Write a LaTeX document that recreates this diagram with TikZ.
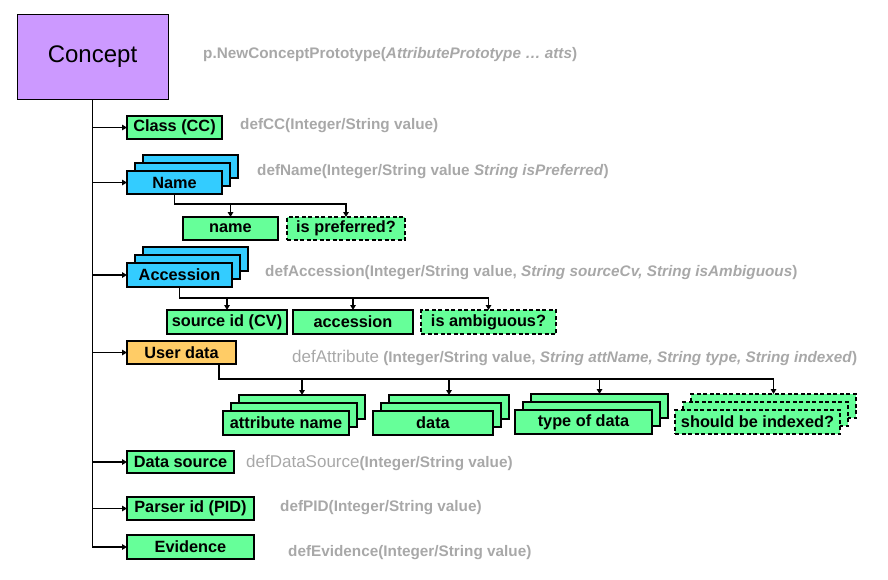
\documentclass[tikz,border=0pt]{standalone}
\usepackage{fontspec}
\setmainfont{Liberation Sans}
\usetikzlibrary{arrows.meta}
\definecolor{cpurple}{HTML}{CC99FF}
\definecolor{cgreen}{HTML}{66FF99}
\definecolor{ccyan}{HTML}{33CCFF}
\definecolor{corange}{HTML}{FFCC66}
\definecolor{clabel}{HTML}{A8A8A8}
\tikzset{
  box/.style={draw=black, line width=1.4pt, inner sep=0pt, outer sep=0pt, minimum height=23pt,
    font=\bfseries\fontsize{16.3}{18}\selectfont, text=black},
  gbox/.style={box, fill=cgreen},
  cbox/.style={box, fill=ccyan},
  obox/.style={box, fill=corange},
  dbox/.style={gbox, dash pattern=on 4pt off 2.5pt},
  lbl/.style={anchor=west, inner sep=0pt, text=clabel, font=\bfseries\fontsize{15.3}{17}\selectfont},
  conn/.style={line width=1.5pt, draw=black},
  arr/.style={conn, -{Triangle[length=5pt,width=5.5pt]}},
}
\begin{document}
\begin{tikzpicture}[x=1pt, y=-1pt]
\useasboundingbox (0,0) rectangle (888,579);
% Concept
\node[draw=black, line width=1pt, fill=cpurple, minimum width=151pt, minimum height=85pt, inner sep=0pt,
  font=\fontsize{24}{28}\selectfont] (concept) at (92.5,56.5) {Concept};
% first level
\node[gbox, minimum width=95pt] (cls) at (174.5,127.5) {Class (CC)};
\node[cbox, minimum width=95pt] (name3) at (190.5,166.5) {};
\node[cbox, minimum width=95pt] (name2) at (182.5,174.5) {};
\node[cbox, minimum width=95pt] (name1) at (174.5,182.5) {Name};
\node[cbox, minimum width=105pt, minimum height=24pt] (acc3) at (195.5,259) {};
\node[cbox, minimum width=105pt, minimum height=24pt] (acc2) at (187.5,267) {};
\node[cbox, minimum width=105pt, minimum height=24pt] (acc1) at (179.5,275) {Accession};
\node[obox, minimum width=109pt] (ud) at (181.5,352.5) {User data};
\node[gbox, minimum width=107pt, minimum height=22pt] (ds) at (180.5,462) {Data source};
\node[gbox, minimum width=127pt] (pid) at (190.5,508.5) {Parser id (PID)};
\node[gbox, minimum width=127pt, minimum height=24pt] (ev) at (190.5,547) {Evidence};
% name children
\node[gbox, minimum width=95pt] (nm) at (230.5,228.5) {name};
\node[dbox, minimum width=118pt] (pref) at (346,228.5) {is preferred?};
% accession children
\node[gbox, minimum width=120pt, minimum height=24pt] (src) at (227,322) {source id (CV)};
\node[gbox, minimum width=120pt, minimum height=24pt] (accn) at (353,322) {accession};
\node[dbox, minimum width=135pt, minimum height=24pt] (amb) at (488.5,322) {is ambiguous?};
% user data children (stacks)
\node[gbox, minimum width=126pt, minimum height=24pt] (an3) at (302,407) {};
\node[gbox, minimum width=126pt, minimum height=24pt] (an2) at (294,415) {};
\node[gbox, minimum width=126pt, minimum height=24pt] (an1) at (286,423) {attribute name};
\node[gbox, minimum width=120pt, minimum height=24pt] (dt3) at (449,407) {};
\node[gbox, minimum width=120pt, minimum height=24pt] (dt2) at (441,415) {};
\node[gbox, minimum width=120pt, minimum height=24pt] (dt1) at (433,423) {data};
\node[gbox, minimum width=137pt, minimum height=24pt] (td3) at (599.5,406) {};
\node[gbox, minimum width=137pt, minimum height=24pt] (td2) at (591.5,414) {};
\node[gbox, minimum width=137pt, minimum height=24pt] (td1) at (583.5,422) {type of data};
\node[dbox, minimum width=165pt, minimum height=24pt] (si3) at (773.5,406) {};
\node[dbox, minimum width=165pt, minimum height=24pt] (si2) at (765.5,414) {};
\node[dbox, minimum width=165pt, minimum height=24pt] (si1) at (757.5,422) {should be indexed?};
% trunk and branches
\draw[conn] (concept.south) -- (concept.south |- ev.west);
\foreach \t in {cls,name1,acc1,ud,ds,pid,ev}{
  \draw[arr] (concept.south) |- (\t.west);
}
% name bus
\draw[arr] (name1.south) -- ++(0,10) -| (nm.north);
\draw[arr] (name1.south) -- ++(0,10) -| (pref.north);
% accession bus
\draw[arr] (acc1.south) -- ++(0,11) -| (src.north);
\draw[arr] (acc1.south) -- ++(0,11) -| (accn.north);
\draw[arr] (acc1.south) -- ++(0,11) -| (amb.north);
% user data bus
\coordinate (udo) at ([xshift=-17pt]ud.south east);
\foreach \t in {an3,dt3,td3,si3}{
  \draw[arr] (udo) -- ++(0,15) -| (\t.north);
}
% labels
\node[lbl] (lc) at (203,55) {p.NewConceptPrototype(\textit{AttributePrototype … atts})};
\node[lbl] (lcc) at (240,126) {defCC(Integer/String value)};
\node[lbl] (lname) at (257,172) {defName(Integer/String value \textit{String isPreferred})};
\node[lbl] (lacc) at (265,273) {defAccession(Integer/String value, \textit{String sourceCv, String isAmbiguous})};
\node[lbl] (lattr) at (292,358) {{\mdseries\fontsize{17}{19}\selectfont defAttribute} (Integer/String value, \textit{String attName, String type, String indexed})};
\node[lbl] (lds) at (246,463) {{\mdseries\fontsize{17}{19}\selectfont defDataSource}(Integer/String value)};
\node[lbl] (lpid) at (280,508) {defPID(Integer/String value)};
\node[lbl] (lev) at (288,553) {defEvidence(Integer/String value)};
\end{tikzpicture}
\end{document}
